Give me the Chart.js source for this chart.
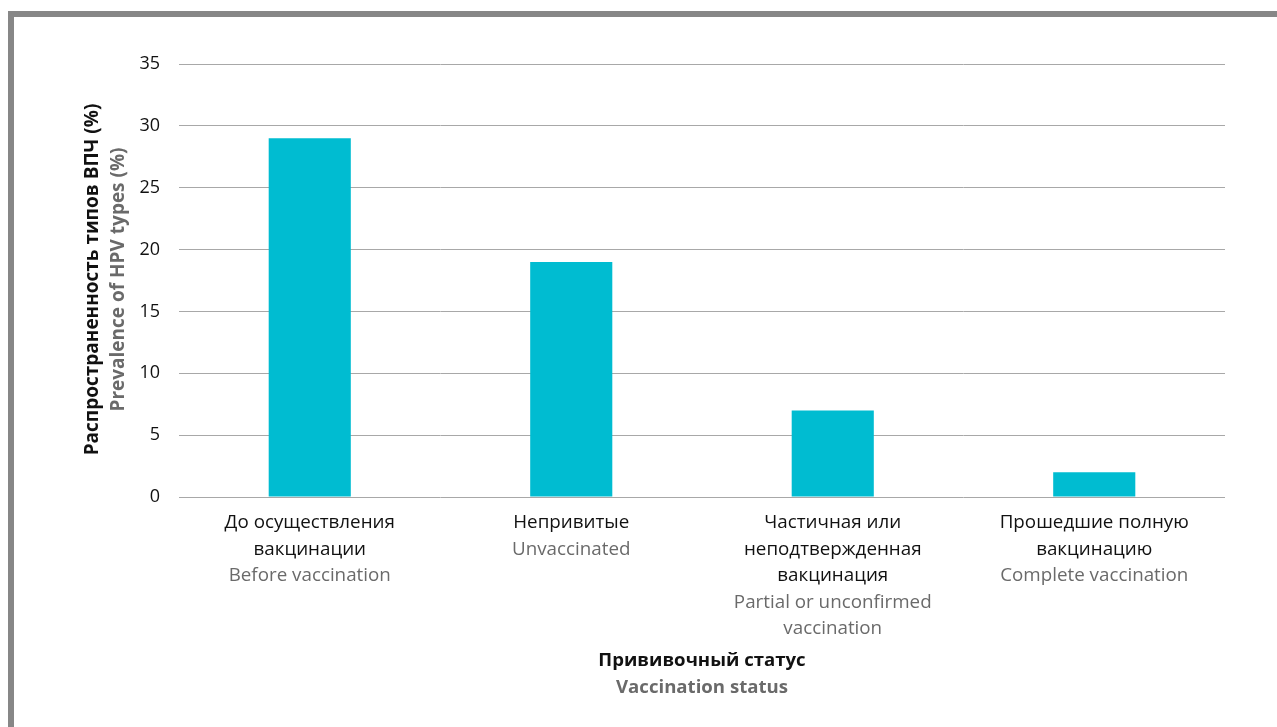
<!DOCTYPE html>
<html>
<head>
<meta charset="utf-8">
<script src="https://cdn.jsdelivr.net/npm/chart.js@4.4.1/dist/chart.umd.min.js"></script>
<style>
  html, body { margin: 0; padding: 0; background: #fff; }
  body { width: 1277px; height: 727px; position: relative; overflow: hidden; }
  .frame { position: absolute; left: 8px; top: 11px; right: 0; bottom: 0;
           border-top: 6px solid #878787; border-left: 6px solid #878787; }
  #chart { position: absolute; left: 0; top: 0; }
</style>
</head>
<body>
<div class="frame"></div>
<canvas id="chart" width="1277" height="727"></canvas>
<script>
// category labels: russian lines (black) and english lines (grey)
const labelsRu = [
  ['До осуществления', 'вакцинации'],
  ['Непривитые'],
  ['Частичная или', 'неподтвержденная', 'вакцинация'],
  ['Прошедшие полную', 'вакцинацию']
];
const labelsEn = [
  ['Before vaccination'],
  ['Unvaccinated'],
  ['Partial or unconfirmed', 'vaccination'],
  ['Complete vaccination']
];
const prevalence = [29, 19, 7, 2];
const yMin = 0, yMax = 35, yStep = 5;

const yTitleRu = 'Распространенность типов ВПЧ (%)';
const yTitleEn = 'Prevalence of HPV types (%)';
const xTitleRu = 'Прививочный статус';
const xTitleEn = 'Vaccination status';

const FONT = '"Open Sans", "Noto Sans", sans-serif';
const BLACK = '#111';
const GREY = '#6a6a6a';

// draws the two-colour category labels and axis titles
const textPlugin = {
  id: 'bilingualText',
  afterDraw(chart) {
    const { ctx, chartArea, scales } = chart;
    const x = scales.x;
    const lineH = 26.5;
    ctx.save();
    ctx.textAlign = 'center';
    ctx.textBaseline = 'middle';
    ctx.font = '18.8px ' + FONT;
    labelsRu.forEach(function(ru, i) {
      const cx = x.getPixelForValue(i);
      let y = chartArea.bottom + 26;
      ctx.fillStyle = BLACK;
      ru.forEach(function(l) { ctx.fillText(l, cx, y); y += lineH; });
      ctx.fillStyle = GREY;
      labelsEn[i].forEach(function(l) { ctx.fillText(l, cx, y); y += lineH; });
    });

    const midX = (chartArea.left + chartArea.right) / 2;
    ctx.font = 'bold 18.6px ' + FONT;
    ctx.fillStyle = BLACK;
    ctx.fillText(xTitleRu, midX, 661);
    ctx.fillStyle = GREY;
    ctx.fillText(xTitleEn, midX, 688);

    const midY = (chartArea.top + chartArea.bottom) / 2;
    ctx.translate(93, midY - 1);
    ctx.rotate(-Math.PI / 2);
    ctx.font = 'bold 19px ' + FONT;
    ctx.fillStyle = BLACK;
    ctx.fillText(yTitleRu, 0, 0);
    ctx.fillStyle = GREY;
    ctx.fillText(yTitleEn, 0, 26);
    ctx.restore();
  }
};

new Chart(document.getElementById('chart'), {
  type: 'bar',
  data: {
    labels: labelsRu,
    datasets: [{
      data: prevalence,
      backgroundColor: '#00bcd1',
      categoryPercentage: 1,
      barPercentage: 0.314
    }]
  },
  options: {
    responsive: false,
    animation: false,
    layout: { padding: { top: 64, right: 52, left: 0, bottom: 0 } },
    plugins: { legend: { display: false }, tooltip: { enabled: false } },
    scales: {
      x: {
        grid: { display: false },
        border: { display: false },
        ticks: { display: false },
        afterFit: function(s) { s.height = 230; }
      },
      y: {
        min: yMin, max: yMax,
        grid: { color: '#a8a8a8', lineWidth: 1, drawTicks: false },
        border: { display: false },
        ticks: { stepSize: yStep, padding: 19, color: BLACK, font: { family: FONT, size: 18 } },
        afterFit: function(s) { s.width = 179; }
      }
    }
  },
  plugins: [textPlugin]
});
</script>
</body>
</html>
